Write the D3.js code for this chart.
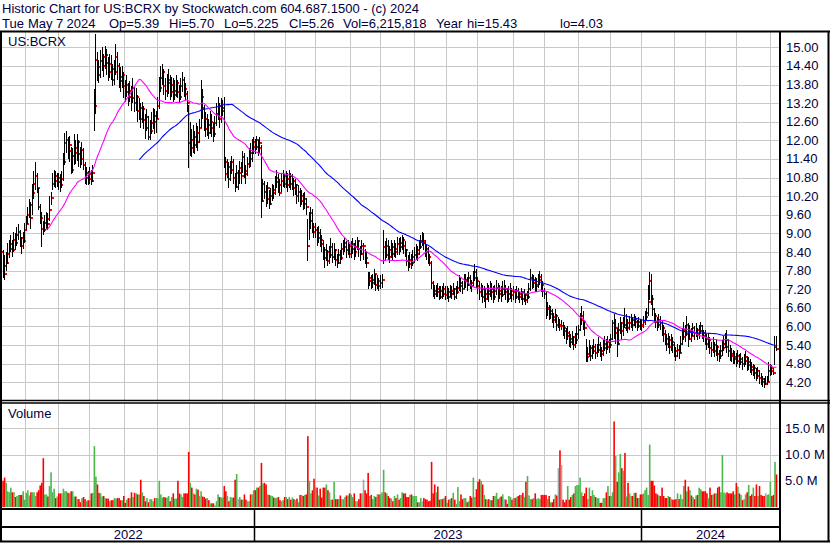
<!DOCTYPE html>
<html>
<head>
<meta charset="utf-8">
<script src="https://cdn.jsdelivr.net/npm/d3@7"></script>
<style>
body { margin: 0; background: #fff; }
text { font-family: "Liberation Sans", Arial, sans-serif; font-size: 13px; fill: #000040; }
</style>
</head>
<body>
<div id="chart"></div>
<script>
// US market holidays in the range (trading calendar)
var holidays = ["2022-05-30","2022-06-20","2022-07-04","2022-09-05","2022-11-24","2022-12-26",
  "2023-01-02","2023-01-16","2023-02-20","2023-04-07","2023-05-29","2023-06-19","2023-07-04",
  "2023-09-04","2023-11-23","2023-12-25","2024-01-01","2024-01-15","2024-02-19","2024-03-29"];
var firstDay = "2022-05-09", lastDay = "2024-05-07";

// daily high / low / close, one line per month
var highs = [
 8.95,8.45,8.30,8.40,8.70,8.80,8.95,8.80,9.05,9.00,9.20,9.30,9.10,8.90,9.05,9.35,
 9.55,9.85,10.10,10.00,10.60,11.00,11.30,10.95,10.45,9.95,9.70,9.40,9.60,9.70,9.65,10.20,10.35,10.95,11.05,11.00,10.95,
 10.95,10.90,11.00,11.60,12.25,12.30,12.10,12.15,11.80,11.75,12.20,12.00,12.20,12.00,11.80,11.95,11.75,11.30,11.15,11.00,
 11.15,11.05,11.20,13.65,15.43,14.85,14.60,14.90,15.00,14.80,15.05,14.95,14.70,14.80,14.75,14.45,14.60,15.10,14.85,14.50,14.35,14.40,14.20,
 13.95,14.10,13.85,13.90,13.75,14.00,13.75,13.70,13.45,13.35,13.20,13.25,13.10,12.85,13.00,12.80,12.65,12.90,13.05,13.00,12.95,
 13.40,14.05,14.40,14.45,14.30,14.00,14.15,14.30,14.10,14.05,14.00,13.95,14.10,13.95,13.80,14.00,14.20,14.05,13.85,13.60,13.15,
 12.60,12.35,12.50,12.30,12.55,12.45,12.70,13.95,13.65,13.15,12.90,12.85,12.70,12.95,12.85,12.60,12.80,13.20,13.40,13.20,13.35,
 13.30,13.40,11.45,11.40,11.30,11.35,11.50,11.40,10.95,11.20,11.05,11.35,11.30,11.65,11.60,11.20,11.45,11.75,11.90,12.05,12.10,
 12.05,12.15,12.00,12.10,11.85,10.75,10.70,10.55,10.65,10.40,10.45,10.60,10.55,10.85,11.05,10.90,10.75,10.90,11.05,10.90,
 11.00,10.95,11.05,10.95,10.90,10.80,10.75,10.60,10.55,10.45,10.40,10.30,10.35,10.15,9.45,9.70,9.85,9.80,9.35,
 9.35,9.20,9.25,9.15,8.95,8.80,8.55,8.65,8.45,8.60,8.85,8.70,8.70,8.50,8.35,8.50,8.45,8.70,8.80,8.85,8.75,8.80,8.65,
 8.75,8.85,8.70,8.80,8.90,8.80,8.60,8.80,8.70,8.50,8.40,7.75,7.75,7.65,7.70,7.85,7.70,7.65,7.55,
 7.65,7.70,9.10,8.75,8.85,8.80,8.60,8.80,8.70,8.80,8.70,8.90,8.85,8.90,8.95,8.90,8.75,8.50,8.30,8.40,8.35,8.45,
 8.55,8.65,8.60,8.80,8.95,9.05,9.00,8.80,8.65,8.55,8.35,8.10,7.45,7.35,7.35,7.40,7.30,7.30,7.30,7.40,7.30,
 7.30,7.25,7.35,7.30,7.40,7.25,7.30,7.45,7.65,7.55,7.45,7.70,7.70,7.60,7.75,7.65,7.50,7.80,8.00,7.85,
 7.60,7.45,7.40,7.35,7.30,7.25,7.40,7.35,7.45,7.40,7.30,7.35,7.50,7.40,7.35,7.30,7.45,7.50,7.35,7.25,7.30,7.40,7.25,
 7.30,7.20,7.30,7.25,7.15,7.25,7.10,7.20,7.05,7.15,7.40,7.85,7.70,7.65,7.60,7.55,7.70,7.80,7.70,7.45,
 7.25,7.15,6.80,6.70,6.65,6.55,6.45,6.55,6.40,6.30,6.25,6.20,6.15,6.05,5.95,6.00,5.85,5.75,5.85,5.70,5.80,6.00,
 6.05,6.45,6.65,6.50,6.20,5.60,5.35,5.55,5.40,5.40,5.60,5.45,5.45,5.65,5.50,5.35,5.55,5.70,5.60,5.70,5.60,
 5.75,6.20,6.40,6.25,5.95,6.10,6.30,6.15,6.30,6.60,6.40,6.25,6.35,6.40,6.30,6.40,6.35,6.20,6.30,6.25,
 6.25,6.35,6.50,6.60,7.35,7.75,7.70,7.00,6.60,6.45,6.30,6.40,6.35,6.20,6.05,5.90,5.75,5.80,5.70,5.75,5.65,
 5.50,5.35,5.45,5.40,5.70,5.95,6.15,6.05,6.35,6.10,6.05,5.95,6.10,6.00,6.10,5.95,6.05,6.15,6.05,5.90,
 5.90,5.75,5.80,5.65,5.50,5.65,5.50,5.55,5.40,5.25,5.40,5.55,5.70,5.80,5.90,5.60,5.40,5.30,5.25,5.20,
 5.15,5.25,5.10,5.15,5.00,5.10,5.20,5.05,5.00,4.95,4.85,4.80,4.75,4.65,4.70,4.60,4.50,4.40,4.35,4.40,4.40,4.85,
 4.80,4.75,4.70,5.70,5.70
];
var lows = [
 7.85,7.55,7.50,7.80,8.00,8.20,8.40,8.25,8.40,8.45,8.60,8.80,8.55,8.35,8.50,8.70,
 9.10,9.30,9.50,9.15,9.60,10.10,10.40,10.30,9.75,9.30,8.55,8.95,9.05,9.15,9.10,9.40,9.90,10.40,10.50,10.45,10.50,
 10.40,10.35,10.45,10.70,11.20,11.60,11.40,11.30,10.90,10.95,11.20,11.25,11.35,11.15,11.10,11.20,11.05,10.60,10.55,10.55,
 10.60,10.55,10.65,12.30,12.85,13.90,13.85,14.00,14.25,14.05,14.30,14.10,13.90,14.00,13.95,13.75,13.80,14.10,13.95,13.70,13.55,13.70,13.35,
 13.25,13.40,13.10,13.25,12.95,13.20,12.90,12.95,12.60,12.65,12.40,12.55,12.35,12.05,12.30,12.00,12.00,12.20,12.35,12.20,12.25,
 12.70,13.00,13.55,13.80,13.45,13.30,13.40,13.50,13.30,13.40,13.25,13.30,13.40,13.35,13.20,13.30,13.55,13.40,13.30,12.90,11.10,
 11.50,11.45,11.60,11.55,11.75,11.65,11.90,12.40,12.70,12.30,12.10,12.15,12.05,12.20,12.10,11.95,12.10,12.45,12.65,12.40,12.55,
 12.80,11.10,10.70,10.80,10.45,10.70,10.90,10.60,10.35,10.45,10.40,10.60,10.60,10.95,10.80,10.60,10.85,11.10,11.15,11.30,11.55,
 11.55,11.70,11.50,11.60,9.50,10.00,10.10,9.85,9.95,9.80,9.90,10.05,10.10,10.25,10.45,10.30,10.20,10.35,10.50,10.45,
 10.45,10.35,10.45,10.40,10.40,10.20,10.25,9.95,10.00,9.85,9.90,9.75,9.80,9.60,8.10,8.80,9.15,9.00,8.85,
 8.85,8.60,8.70,8.55,8.40,8.15,7.90,8.10,7.95,8.00,8.20,8.05,8.15,7.95,7.90,8.00,8.00,8.15,8.30,8.40,8.20,8.30,8.20,
 8.20,8.35,8.15,8.25,8.45,8.25,8.10,8.30,8.15,8.00,7.90,7.20,7.30,7.20,7.25,7.35,7.15,7.20,7.15,
 7.20,7.25,8.00,8.10,8.20,8.15,8.05,8.20,8.15,8.25,8.20,8.30,8.30,8.40,8.45,8.35,8.25,7.95,7.80,7.90,7.85,7.95,
 8.05,8.15,8.10,8.30,8.50,8.60,8.45,8.25,8.15,8.00,7.95,7.20,6.95,6.90,6.95,6.95,6.85,6.90,6.90,6.95,6.85,
 6.90,6.80,6.95,6.90,7.00,6.85,6.90,7.05,7.15,7.10,7.05,7.20,7.25,7.15,7.30,7.20,7.10,7.30,7.45,7.25,
 7.05,6.85,6.95,6.75,6.80,6.60,6.85,6.80,6.95,6.85,6.75,6.85,7.00,6.80,6.90,6.80,6.95,7.00,6.85,6.75,6.80,6.90,6.80,
 6.85,6.75,6.90,6.85,6.75,6.85,6.70,6.80,6.70,6.75,6.90,7.15,7.20,7.25,7.10,7.10,7.25,7.35,7.10,6.95,
 6.90,6.25,6.35,6.20,6.25,6.10,5.95,6.10,5.85,5.95,5.85,5.90,5.70,5.60,5.45,5.55,5.35,5.30,5.40,5.25,5.30,5.45,
 5.60,5.85,6.05,5.90,5.70,4.85,4.85,5.00,4.90,4.95,5.10,4.95,5.00,5.15,5.00,4.90,5.05,5.20,5.10,5.25,5.15,
 5.30,5.55,5.60,5.45,5.00,5.40,5.75,5.55,5.70,5.95,5.85,5.80,5.90,5.95,5.85,6.00,5.95,5.85,5.95,5.90,
 5.85,5.95,6.05,6.20,6.35,6.85,6.70,6.35,6.10,5.95,5.85,5.95,5.90,5.70,5.50,5.40,5.20,5.30,5.10,5.20,5.15,
 5.00,4.90,5.00,4.95,5.15,5.40,5.55,5.50,5.70,5.35,5.55,5.50,5.70,5.55,5.65,5.55,5.60,5.75,5.60,5.50,
 5.40,5.25,5.30,5.10,5.00,5.15,5.00,5.05,4.90,4.85,4.95,5.05,5.20,5.30,5.15,5.00,4.90,4.85,4.80,4.80,
 4.70,4.80,4.65,4.75,4.60,4.70,4.75,4.55,4.60,4.50,4.45,4.40,4.30,4.25,4.30,4.15,4.10,4.05,4.03,4.10,4.10,4.20,
 4.40,4.45,4.45,4.75,5.225
];
var closes = [
 8.40,7.95,7.70,8.05,8.35,8.50,8.65,8.45,8.80,8.70,8.95,9.05,8.85,8.60,8.75,9.10,
 9.30,9.60,9.90,9.50,10.30,10.60,10.85,10.45,9.85,9.50,9.15,9.10,9.35,9.45,9.30,9.75,10.15,10.60,10.85,10.70,10.80,
 10.65,10.55,10.75,11.30,11.90,12.00,11.65,11.85,11.05,11.50,11.75,11.60,11.95,11.55,11.40,11.70,11.20,10.80,10.95,10.75,
 10.90,10.70,10.95,13.10,14.60,14.35,14.10,14.55,14.70,14.40,14.75,14.50,14.20,14.45,14.30,13.95,14.20,14.70,14.40,14.05,13.90,14.10,13.75,
 13.55,13.80,13.40,13.60,13.35,13.70,13.20,13.40,12.95,13.05,12.70,13.00,12.65,12.40,12.75,12.10,12.30,12.55,12.80,12.60,12.70,
 13.10,13.70,14.00,14.20,13.75,13.60,13.85,13.95,13.55,13.80,13.45,13.60,13.85,13.55,13.40,13.75,13.95,13.65,13.50,13.20,11.90,
 12.00,11.75,12.10,11.85,12.25,11.95,12.40,13.40,13.05,12.70,12.35,12.50,12.25,12.60,12.40,12.20,12.55,12.85,13.10,12.70,12.95,
 13.05,11.30,10.90,11.15,10.75,11.05,11.30,10.80,10.50,10.95,10.95,11.10,10.85,11.45,11.00,10.90,11.25,11.60,11.40,11.80,11.95,
 11.80,12.00,11.75,11.90,10.05,10.60,10.35,10.10,10.45,9.95,10.20,10.40,10.30,10.65,10.80,10.55,10.30,10.70,10.85,10.60,
 10.75,10.55,10.85,10.60,10.70,10.45,10.55,10.20,10.35,10.05,10.20,9.95,10.10,9.85,8.60,9.40,9.65,9.20,9.05,
 9.10,8.85,9.00,8.80,8.65,8.45,8.20,8.40,8.10,8.30,8.55,8.25,8.45,8.15,8.05,8.30,8.20,8.50,8.55,8.70,8.45,8.60,8.35,
 8.50,8.65,8.40,8.55,8.75,8.50,8.35,8.60,8.60,8.20,8.05,7.45,7.55,7.40,7.50,7.70,7.35,7.45,7.30,
 7.40,7.50,8.55,8.30,8.60,8.45,8.25,8.55,8.35,8.50,8.40,8.65,8.55,8.70,8.80,8.60,8.45,8.10,8.00,8.15,8.05,8.25,
 8.30,8.45,8.35,8.55,8.75,8.75,8.70,8.50,8.40,8.25,8.05,7.40,7.15,7.05,7.20,7.10,6.95,7.15,7.05,7.20,7.00,
 7.10,6.95,7.15,7.05,7.20,6.95,7.10,7.25,7.40,7.30,7.20,7.45,7.50,7.35,7.55,7.40,7.30,7.55,7.75,7.45,
 7.30,7.10,7.20,6.95,7.05,6.90,7.15,7.05,7.20,7.10,6.95,7.15,7.25,7.05,7.15,7.00,7.20,7.20,7.10,6.90,7.05,7.15,7.00,
 7.10,6.95,7.15,7.05,6.95,7.10,6.90,7.00,6.85,6.95,7.20,7.55,7.40,7.50,7.30,7.35,7.50,7.60,7.35,7.15,
 7.05,6.55,6.60,6.40,6.50,6.30,6.20,6.35,6.05,6.05,6.00,6.00,5.95,5.85,5.70,5.80,5.60,5.50,5.65,5.40,5.55,5.75,
 5.90,6.20,6.35,6.15,5.95,5.00,5.10,5.30,5.05,5.20,5.35,5.15,5.25,5.40,5.20,5.10,5.30,5.45,5.35,5.50,5.40,
 5.60,6.10,5.80,5.95,5.45,5.90,6.10,5.85,6.05,5.95,6.10,5.95,6.10,6.20,6.05,6.25,6.15,6.00,6.15,6.05,
 6.00,6.15,6.30,6.45,6.80,7.45,6.90,6.55,6.35,6.15,6.05,6.20,6.10,5.95,5.75,5.60,5.45,5.55,5.35,5.50,5.40,
 5.20,5.05,5.25,5.15,5.45,5.65,5.90,5.75,6.05,5.60,5.85,5.70,5.95,5.80,5.90,5.75,5.85,6.00,5.80,5.70,
 5.60,5.45,5.55,5.30,5.25,5.40,5.20,5.35,5.10,5.05,5.20,5.30,5.45,5.55,5.35,5.20,5.10,5.05,4.95,5.00,
 4.90,5.05,4.85,4.95,4.80,4.90,5.00,4.75,4.85,4.70,4.60,4.65,4.50,4.40,4.55,4.35,4.30,4.20,4.15,4.15,4.20,4.55,
 4.65,4.55,4.50,5.35,5.26
];
// daily volume, millions of shares
var volumes = [
 5.4,5.0,5.6,4.6,3.0,2.8,3.7,2.8,2.8,1.9,2.1,2.3,2.3,2.3,3.0,1.4,
 2.7,3.2,2.2,2.8,2.8,2.8,2.1,2.8,3.2,4.1,4.6,9.3,2.4,2.4,2.0,4.0,6.6,2.8,3.5,1.7,2.0,
 2.6,2.6,2.6,3.5,3.0,3.0,2.7,2.6,3.0,3.0,2.0,2.0,1.5,1.5,0.9,1.7,1.9,1.5,1.1,1.3,
 1.3,2.6,2.7,11.6,5.8,4.3,2.7,2.6,2.0,2.1,1.7,1.6,1.6,1.1,1.3,1.3,1.7,1.6,1.7,1.7,1.3,1.3,2.1,
 0.8,1.4,1.7,1.7,2.8,1.9,2.7,2.6,2.4,2.4,5.2,2.8,2.1,1.1,1.7,0.9,1.5,1.5,1.1,1.7,1.7,
 1.7,5.0,2.4,1.8,1.9,1.8,1.8,2.1,1.1,1.9,2.6,1.6,1.6,5.0,2.6,2.4,1.9,2.6,2.6,2.6,10.5,
 4.6,3.7,2.6,2.4,3.5,3.3,2.1,3.0,2.0,1.9,1.6,1.7,1.3,0.7,0.7,0.7,0.3,1.1,2.4,1.9,1.8,
 1.8,4.0,3.0,2.1,1.1,1.9,1.8,1.8,5.2,6.3,1.5,1.9,1.4,1.4,2.4,1.4,1.1,1.1,2.4,2.4,3.2,
 3.2,3.7,3.7,4.0,8.4,4.5,4.6,4.3,2.4,2.3,2.2,2.1,1.8,1.7,1.8,1.9,1.3,1.1,1.3,1.9,
 1.9,1.5,1.9,1.4,1.8,1.5,1.3,1.6,0.9,2.3,2.3,2.1,2.3,2.4,13.5,5.0,2.6,3.2,5.4,
 3.7,3.7,2.2,3.5,1.8,3.7,3.7,4.3,3.2,2.8,1.4,1.4,4.8,1.5,1.5,1.5,2.2,1.5,1.5,1.9,2.2,2.2,2.6,
 2.4,1.9,2.6,1.1,1.1,1.5,2.6,2.6,5.2,3.2,2.6,6.5,2.1,2.3,1.5,2.1,1.9,2.4,2.4,
 2.4,2.8,7.1,2.8,2.6,2.1,1.7,1.6,1.1,2.1,1.7,2.4,1.4,1.7,2.8,2.6,2.6,1.9,1.9,2.3,2.4,2.1,
 2.1,2.1,0.9,0.9,1.7,1.1,1.7,1.5,1.4,1.1,1.2,8.6,2.6,4.3,2.8,3.9,1.4,1.5,1.5,1.7,2.1,
 0.8,1.4,1.5,1.7,2.7,1.4,0.6,3.8,1.1,2.4,1.5,1.7,1.7,0.9,1.1,2.1,1.8,5.6,1.9,3.4,
 4.8,5.3,5.0,4.3,2.3,1.5,1.4,1.5,1.3,1.3,2.1,2.1,2.7,1.5,1.8,2.0,2.4,1.5,1.4,0.6,2.1,1.9,1.4,
 1.7,1.7,1.9,2.1,2.3,2.3,2.7,1.9,4.8,5.9,2.2,1.5,1.5,1.7,2.6,1.5,1.7,1.5,2.3,2.3,
 2.3,2.3,1.5,2.1,0.9,0.9,1.5,2.4,2.2,7.4,10.8,8.0,1.4,0.9,1.4,4.0,1.4,1.9,2.3,2.6,4.0,4.2,
 4.2,5.6,2.8,2.1,2.6,3.7,1.5,3.7,2.1,3.2,2.3,1.9,1.7,1.7,0.8,0.8,1.7,1.7,2.8,4.0,2.1,
 2.1,2.8,16.3,9.7,4.8,6.6,10.1,7.4,6.9,10.3,2.0,4.6,2.6,2.1,2.1,2.7,2.7,1.7,1.7,2.4,
 2.4,2.6,3.2,3.7,2.3,11.9,5.0,5.0,4.1,2.6,2.4,2.2,2.1,3.7,2.1,1.7,1.7,2.1,1.9,1.5,1.4,
 1.4,1.5,2.6,1.5,2.4,1.5,4.0,5.2,3.0,3.9,3.2,2.2,1.9,1.5,2.2,2.3,3.7,3.4,3.0,3.0,
 3.0,2.6,1.7,3.7,2.3,2.4,2.6,2.6,3.7,3.9,2.8,9.9,2.8,2.6,2.8,2.6,2.6,2.6,3.0,2.4,
 4.6,3.9,2.6,2.3,1.3,1.5,2.4,2.8,4.2,2.1,2.4,3.7,2.1,4.3,2.1,4.0,2.3,2.1,2.1,2.6,2.3,2.4,
 4.8,2.1,2.3,8.6,6.2
];

var priceTicks = [15.00,14.40,13.80,13.20,12.60,12.00,11.40,10.80,10.20,9.60,9.00,8.40,7.80,7.20,6.60,6.00,5.40,4.80,4.20];
var volumeTicks = [5, 10, 15];
var years = ["2022", "2023", "2024"];
var titleLine = "Historic Chart for US:BCRX by Stockwatch.com 604.687.1500 - (c) 2024";
var quoteWords = ["Tue", "May", "7", "2024", "Op=5.39", "Hi=5.70", "Lo=5.225", "Cl=5.26", "Vol=6,215,818", "Year", "hi=15.43", "lo=4.03"];
var quoteX = [2, 28, 56, 66.5, 109, 169, 224, 289, 343, 436, 467, 560];

var width = 830, height = 543;
var plotRight = 779.5;

var parse = d3.timeParse("%Y-%m-%d"), fmt = d3.timeFormat("%Y-%m-%d");
var days = d3.timeDay.range(parse(firstDay), d3.timeDay.offset(parse(lastDay), 1))
    .filter(function (d) {
        var w = d.getDay();
        return w > 0 && w < 6 && holidays.indexOf(fmt(d)) < 0;
    });
var n = days.length;

var x = d3.scaleLinear().domain([0, n - 1]).range([1.5, 776.5]);
var step = x(1) - x(0);
var y = d3.scaleLinear().domain([4.2, 15]).range([382.3, 47.3]);
var yv = d3.scaleLinear().domain([0, 15]).range([507, 428.3]);

var svg = d3.select("#chart").append("svg")
    .attr("width", width)
    .attr("height", height);

svg.append("rect").attr("width", width).attr("height", height).attr("fill", "#fff");

// header
svg.append("text").attr("x", 2).attr("y", 13).text(titleLine);
svg.append("text").attr("y", 28).selectAll("tspan").data(quoteWords).enter().append("tspan")
    .attr("x", function (d, k) { return quoteX[k]; })
    .text(function (d) { return d; });

// month boundaries
var monthStarts = [], yearStarts = [0];
for (var i = 1; i < n; i++) {
    if (days[i].getMonth() != days[i - 1].getMonth()) monthStarts.push(i);
    if (days[i].getFullYear() != days[i - 1].getFullYear()) yearStarts.push(i);
}
function gx(i) { return Math.round(x(i) - step / 2) + 0.5; }

var grid = svg.append("g").attr("stroke", "#c8c8c8").attr("stroke-width", 1);
grid.selectAll(".hp").data(priceTicks).enter().append("line")
    .attr("x1", 2).attr("x2", plotRight)
    .attr("y1", function (d) { return Math.round(y(d)) + 0.5; })
    .attr("y2", function (d) { return Math.round(y(d)) + 0.5; });
grid.selectAll(".hv").data(volumeTicks).enter().append("line")
    .attr("x1", 2).attr("x2", plotRight)
    .attr("y1", function (d) { return Math.round(yv(d)) + 0.5; })
    .attr("y2", function (d) { return Math.round(yv(d)) + 0.5; });
grid.selectAll(".vp").data(monthStarts).enter().append("line")
    .attr("x1", gx).attr("x2", gx).attr("y1", 32).attr("y2", 400);
grid.selectAll(".vv").data(monthStarts).enter().append("line")
    .attr("x1", gx).attr("x2", gx).attr("y1", 403).attr("y2", 508);

// price bars: high-low line with a red close tick on its right
var bars = svg.append("g").attr("shape-rendering", "crispEdges");
for (var j = 0; j < n; j++) {
    var bx = Math.floor(x(j));
    var hiY = Math.round(y(highs[j])), loY = Math.round(y(lows[j]));
    bars.append("rect").attr("x", bx).attr("y", hiY).attr("width", 1)
        .attr("height", Math.max(1, loY - hiY)).attr("fill", "#000");
    bars.append("rect").attr("x", bx + 1).attr("y", Math.round(y(closes[j])) - 1)
        .attr("width", 2).attr("height", 2).attr("fill", "#f00");
}

// moving averages
function sma(len) {
    return closes.map(function (c, i) {
        return i < len - 1 ? null : d3.mean(closes.slice(i - len + 1, i + 1));
    });
}
var line = d3.line()
    .defined(function (d) { return d != null; })
    .x(function (d, i) { return x(i); })
    .y(function (d) { return y(d); });
svg.append("path").datum(sma(90)).attr("d", line)
    .attr("fill", "none").attr("stroke", "#0000ff").attr("stroke-width", 1.1);
svg.append("path").datum(sma(30)).attr("d", line)
    .attr("fill", "none").attr("stroke", "#ff00ff").attr("stroke-width", 1.1);

// volume bars
svg.append("g").selectAll("rect").data(volumes).enter().append("rect")
    .attr("x", function (d, i) { return x(i) - 0.75; })
    .attr("width", 1.6)
    .attr("y", function (d) { return yv(d); })
    .attr("height", function (d) { return yv(0) - yv(d); })
    .attr("fill", function (d, i) {
        if (i == 0 || closes[i] == closes[i - 1]) return "#a6a6a6";
        return closes[i] > closes[i - 1] ? "#4cb84c" : "#ff0000";
    });

// frame
var frame = svg.append("g").attr("stroke", "#000").attr("fill", "none");
function hline(y0, x0, x1, w) { frame.append("line").attr("x1", x0).attr("x2", x1).attr("y1", y0).attr("y2", y0).attr("stroke-width", w); }
function vline(x0, y0, y1, w) { frame.append("line").attr("x1", x0).attr("x2", x0).attr("y1", y0).attr("y2", y1).attr("stroke-width", w); }
hline(31.5, 0, width, 2);
hline(400.5, 0, width, 1.5);
hline(403, 0, width, 1.5);
hline(509, 0, plotRight + 1, 2);
hline(527, 0, plotRight + 1, 2);
hline(541.5, 0, width, 2);
vline(1, 31, 542, 2);
vline(plotRight + 0.5, 31, 542, 2);
vline(828.5, 31, 542, 2);
yearStarts.slice(1).forEach(function (i) { vline(gx(i), 509, 541, 1.5); });

// axis labels
svg.selectAll(".pt").data(priceTicks).enter().append("text")
    .attr("x", 786).attr("y", function (d) { return y(d) + 4.5; })
    .text(function (d) { return d.toFixed(2); });
svg.selectAll(".vt").data(volumeTicks).enter().append("text")
    .attr("x", 785).attr("y", function (d) { return yv(d) + 4.5; })
    .text(function (d) { return d.toFixed(1) + " M"; });
svg.append("text").attr("x", 8).attr("y", 46).text("US:BCRX");
svg.append("text").attr("x", 8).attr("y", 418).text("Volume");

var yearEdges = yearStarts.map(function (i) { return i == 0 ? 2 : gx(i); }).concat([plotRight]);
svg.selectAll(".yr").data(years).enter().append("text")
    .attr("x", function (d, k) { return (yearEdges[k] + yearEdges[k + 1]) / 2; })
    .attr("y", 539).attr("text-anchor", "middle")
    .text(function (d) { return d; });

if (highs.length != n || lows.length != n || closes.length != n || volumes.length != n) {
    throw new Error("length mismatch " + n + " " + highs.length + " " + lows.length + " " + closes.length + " " + volumes.length);
}
</script>
</body>
</html>
